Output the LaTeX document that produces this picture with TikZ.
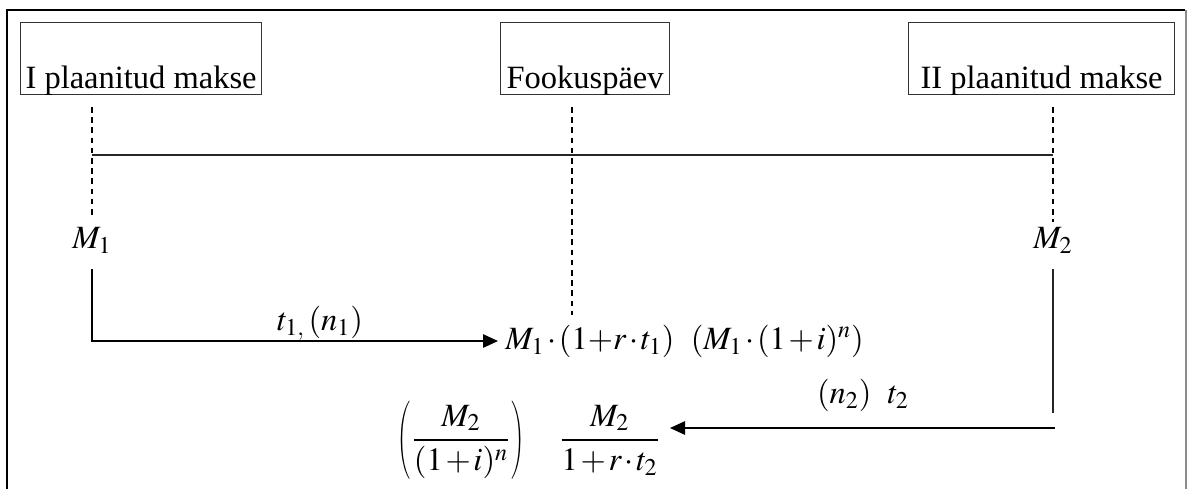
\documentclass[tikz,border=0pt]{standalone}
\usepackage{amsmath}
\usepackage{graphicx}
\usepackage{mathptmx}
\usepackage{fontspec}
\setmainfont{Liberation Serif}
\usetikzlibrary{arrows.meta, positioning}
\newcommand\tightops{\medmuskip=1.5mu\relax}
\newcommand\slimdelim[1]{\scalebox{0.55}[1]{$\displaystyle#1$}}

\begin{document}
\begin{tikzpicture}[
    x=0.02cm, y=-0.02cm,
    font=\fontsize{18.5}{22}\selectfont,
    paybox/.style={draw=black!80, line width=0.7pt, inner sep=0pt, text height=1.32cm, text depth=0.12cm, anchor=north west},
    guide/.style={dash pattern=on 3.2pt off 2.6pt, line width=0.7pt},
    axis/.style={line width=0.7pt, black!85},
    arr/.style={-{Triangle[length=0.3cm, width=0.27cm]}, line width=0.7pt},
    lbl/.style={inner sep=0pt}
]
\useasboundingbox (0,0) rectangle (1187,488);

% Frame (open at the bottom)
\draw[line width=1.6pt] (7,500) -- (7,10) -- (1185,10);
\draw[black!45, line width=0.8pt] (1186,10) -- (1186,500);

% Payment dates
\node[paybox, minimum width=4.82cm] (pay1) at (20,22) {I plaanitud makse};
\node[paybox, minimum width=3.38cm] (focus) at (500,22) {Fookuspäev};
\node[paybox, minimum width=5.32cm] (pay2) at (908,22) {II plaanitud makse};

% Points on the time line
\coordinate (g1) at (92,107);
\coordinate (g2) at (572,107);
\coordinate (g3) at (1053,107);
\coordinate (l1) at (92,155);
\coordinate (l3) at (1053,155);
\coordinate (e1) at (92,215);
\coordinate (e2) at (572,315);
\coordinate (e3) at (1053,222);

\node[lbl] (m1) at (92,240) {$M_1$};
\node[lbl] (m2) at (1053,240) {$M_2$};

% Guides and time line
\draw[guide] (g1) -- (e1);
\draw[guide] (g2) -- (e2);
\draw[guide] (g3) -- (e3);
\draw[axis] (l1) -- (l3);

% Future value
\coordinate (s1) at (92,269);
\node[lbl, inner xsep=0.14cm, anchor=west] (fv) at (498,341)
    {$\tightops M_1\cdot(1{+}r\cdot t_1)\enskip(M_1\cdot(1+i)^n)$};
\draw[arr] (s1) |- (fv.west);
\node[lbl] (t1lbl) at (320,323) {$t_{1,}\,(n_1)$};

% Present value
\coordinate (s3) at (1053,269);
\coordinate (c3) at (1053,413);
\coordinate (b3) at (1055,428);
\draw[axis] (s3) -- (c3);
\node[lbl, inner xsep=0.2cm, anchor=base east] (pv) at (670,448)
    {$\tightops\dfrac{M_2}{1+r\cdot t_2}$};
\node[lbl, anchor=base] (pvc) at (461,448)
    {$\tightops\slimdelim{\left(\vphantom{\dfrac{M_2}{(1+i)^n}}\right.}\dfrac{M_2}{(1+i)^n}\slimdelim{\left.\vphantom{\dfrac{M_2}{(1+i)^n}}\right)}$};
\draw[arr] (b3) -- (b3 -| pv.east);
\node[lbl] (t2lbl) at (863,395) {$(n_2)\ \ t_2$};

\end{tikzpicture}
\end{document}
